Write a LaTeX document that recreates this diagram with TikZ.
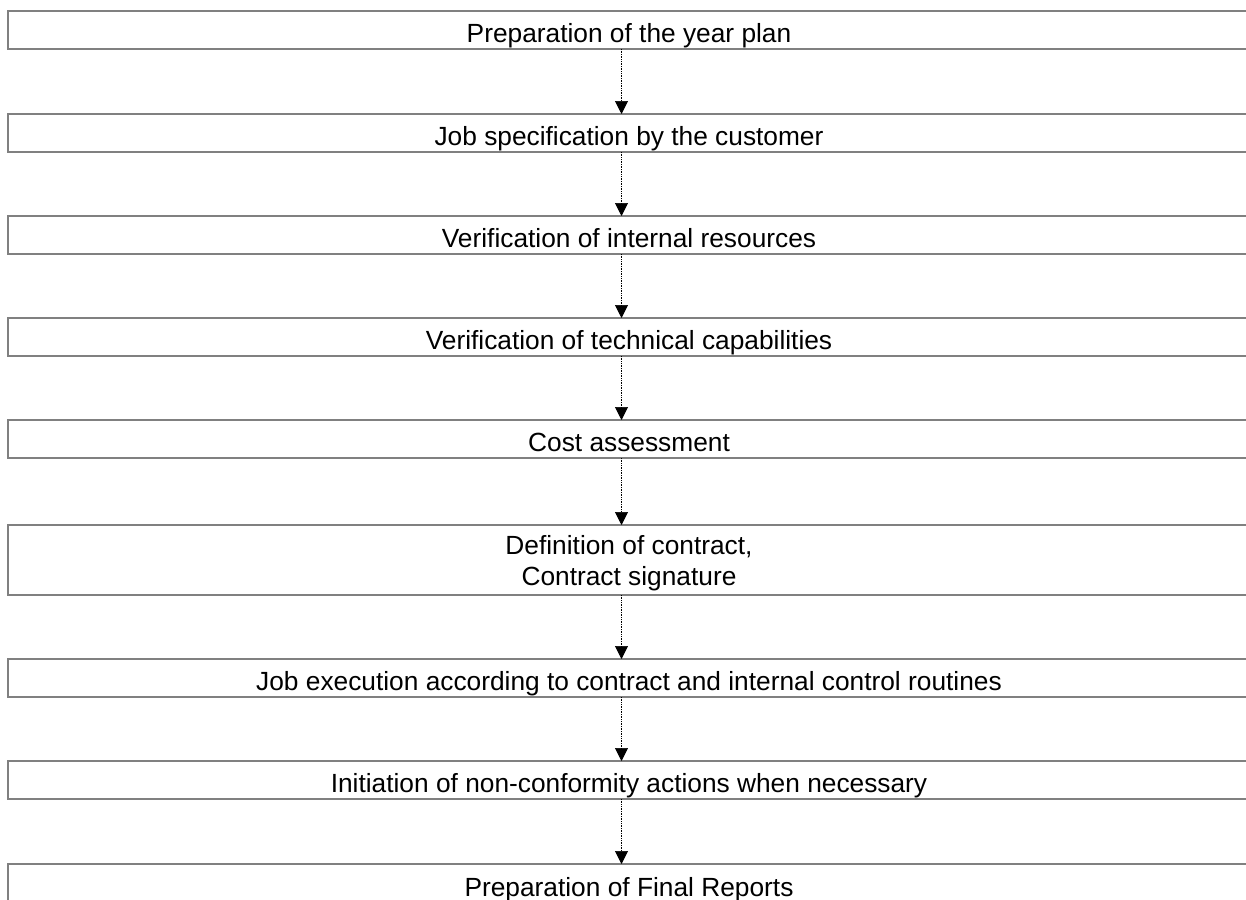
\documentclass[tikz,border=0pt]{standalone}
\usepackage{fontspec}
\setmainfont{Liberation Sans}
\usepackage{xcolor}
\usepackage{tikz}
\usetikzlibrary{arrows.meta, positioning, calc}
\definecolor{boxgray}{RGB}{128, 128, 128}

\tikzset{
    stepbox/.style={draw=boxgray, line width=2pt, minimum width=1242pt, minimum height=38pt,
          inner sep=0pt, outer sep=0pt, align=center, text height=24pt, text depth=0pt,
          font=\fontsize{26.3}{30.2}\selectfont},
    flow/.style={densely dotted, line width=0.7pt, -{Triangle[width=13pt, length=13pt]}}
}

\begin{document}
\begin{tikzpicture}
    \useasboundingbox (0,0) rectangle (1246pt,-899pt);
    \coordinate (ax) at (621.5pt,0);
    % process steps
    \node[stepbox] (plan) at (629pt,-30pt) {Preparation of the year plan};
    \node[stepbox, below=65pt of plan] (spec) {Job specification by the customer};
    \node[stepbox, below=64pt of spec] (res) {Verification of internal resources};
    \node[stepbox, below=64pt of res] (tech) {Verification of technical capabilities};
    \node[stepbox, below=64pt of tech] (cost) {Cost assessment};
    \node[stepbox, below=67pt of cost, minimum height=70pt, text height=56pt, text depth=6pt] (contract) {Definition of contract,\\ Contract signature};
    \node[stepbox, below=64pt of contract] (exec) {Job execution according to contract and internal control routines};
    \node[stepbox, below=64pt of exec] (ncf) {Initiation of non-conformity actions when necessary};
    \node[stepbox, below=65pt of ncf, minimum height=40pt] (final) {Preparation of Final Reports};
    % connectors
    \foreach \a/\b in {plan/spec, spec/res, res/tech, tech/cost, cost/contract, contract/exec, exec/ncf, ncf/final}
        \draw[flow] (\a.south -| ax) -- (\b.north -| ax);
\end{tikzpicture}
\end{document}
